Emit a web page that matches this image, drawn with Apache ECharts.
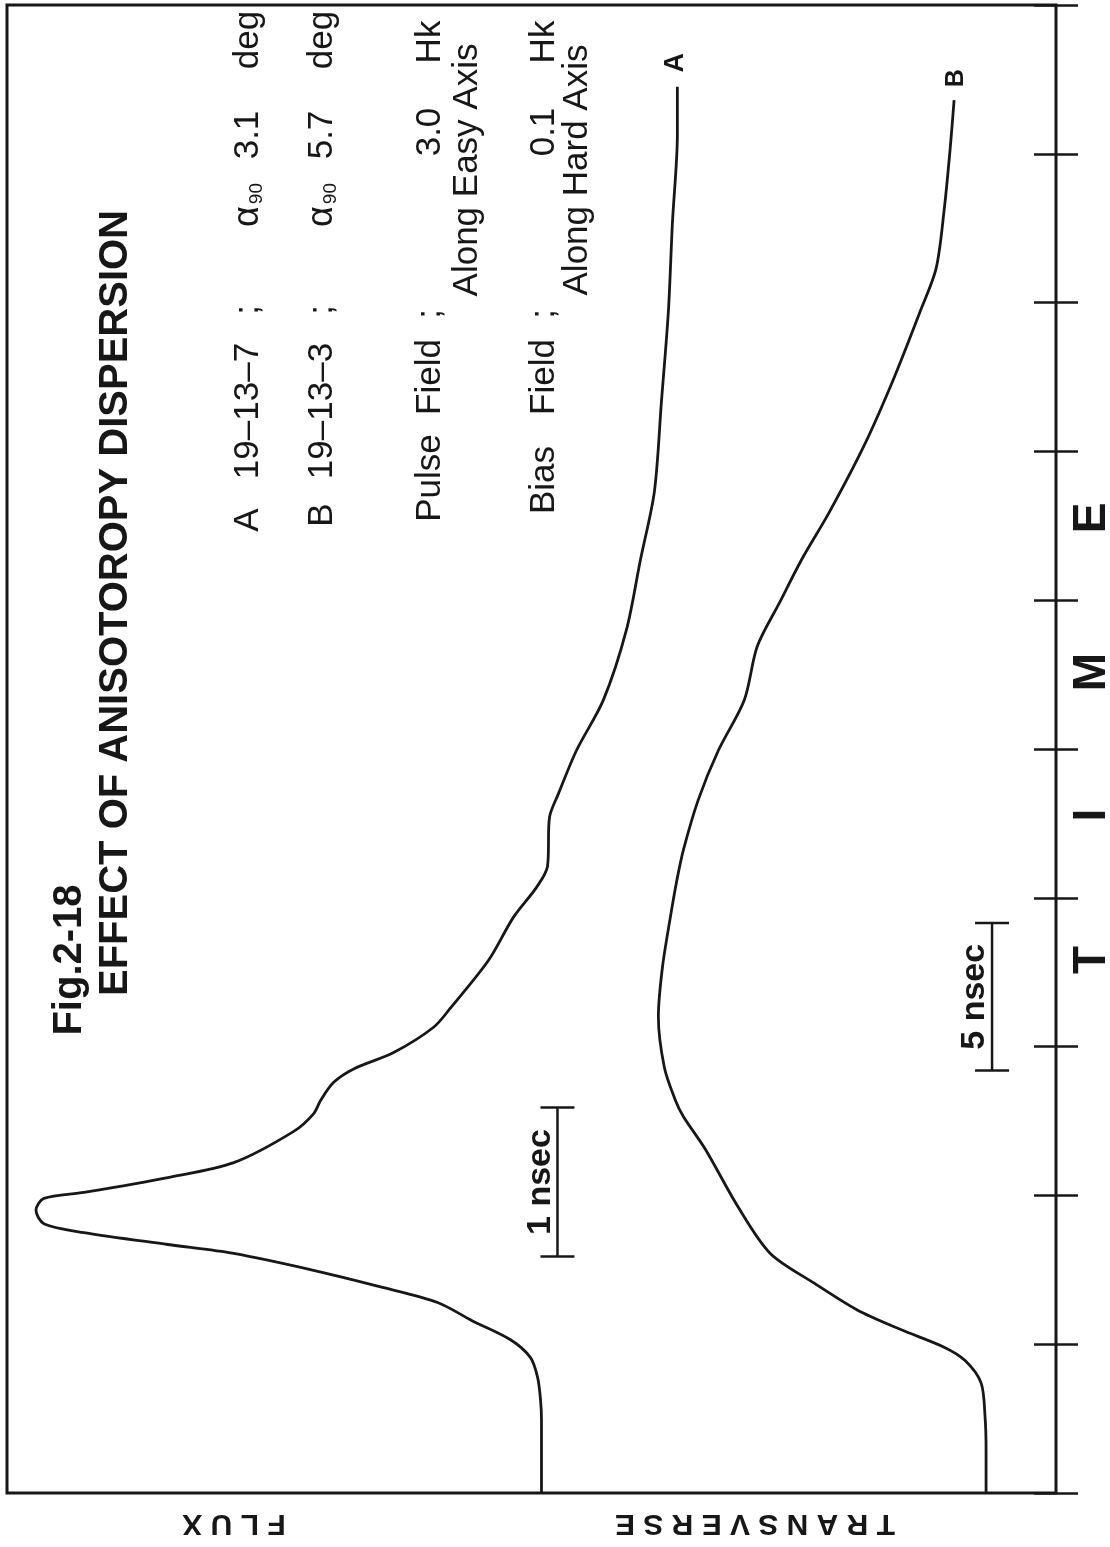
<!DOCTYPE html>
<html>
<head>
<meta charset="utf-8">
<script src="https://cdn.jsdelivr.net/npm/echarts@6/dist/echarts.min.js"></script>
<style>
  html, body { margin: 0; padding: 0; background: #fff; }
  #main { width: 1110px; height: 1547px; }
</style>
</head>
<body>
<div id="main"></div>
<script>
// time runs up the page, in chart divisions (A: 1 nsec/div, B: 5 nsec/div)
// transverse flux grows to the left (arbitrary units)
const timeA = [0.00, 0.49, 0.63, 0.78, 0.91, 1.03, 1.16, 1.28, 1.38, 1.49, 1.61, 1.67, 1.75, 1.81, 1.90,
  1.98, 2.02, 2.12, 2.22, 2.43, 2.55, 2.64, 2.76, 2.85, 2.96, 3.13, 3.26, 3.58, 3.87, 4.07, 4.21,
  4.54, 4.70, 4.99, 5.33, 5.80, 6.27, 6.73, 7.33, 7.94, 8.53, 9.13, 9.45];
const fluxA = [51.5, 51.5, 51.6, 51.9, 52.6, 54.6, 58.5, 61.9, 67.3, 73.9, 82.3, 88.9, 97.3, 101.3, 102.1,
  101.3, 97.3, 88.9, 82.3, 76.3, 74.3, 73.6, 72.3, 70.3, 66.3, 62.3, 60.6, 56.8, 54.3, 52.0, 50.9,
  50.7, 49.8, 48.0, 45.3, 43.0, 41.6, 40.2, 39.5, 38.8, 38.4, 37.9, 37.9];

const timeB = [0.00, 0.29, 0.51, 0.74, 0.89, 0.98, 1.10, 1.23, 1.41, 1.61, 1.92, 2.31, 2.53, 2.64, 2.86,
  3.20, 3.53, 3.87, 4.10, 4.32, 4.66, 4.99, 5.33, 5.69, 5.98, 6.28, 6.59, 7.04, 7.48, 7.94, 8.23,
  8.62, 9.03, 9.36];
const fluxB = [7.0, 7.0, 7.1, 7.5, 9.1, 11.2, 15.6, 19.9, 24.2, 28.6, 31.8, 35.1, 37.3, 38.1, 39.2,
  39.8, 39.4, 38.6, 38.0, 37.3, 35.8, 33.8, 31.2, 29.9, 27.7, 25.4, 22.7, 19.2, 16.3, 13.6, 12.0,
  11.2, 10.6, 10.2];

const curveNames = ['A', 'B'];

// scale bars (one division each)
const barLabels = ['1 nsec', '5 nsec'];
const barFlux = [49.9, 6.4];
const barStart = [1.59, 2.84];
const barEnd = [2.59, 3.83];

const ink = '#171717';
const FAM = '"Liberation Sans", Arial, sans-serif';
const UP = Math.PI / 2;

const chart = echarts.init(document.getElementById('main'));

function pairs(xs, ys) {
  return ys.map((y, i) => [xs[i], y]);
}

function txt(text, x, y, size, weight, rotation, rich) {
  const el = {
    type: 'text', x: x, y: y, rotation: rotation === undefined ? UP : rotation,
    style: {
      text: text, fill: ink,
      font: (weight || 'normal') + ' ' + size + 'px ' + FAM,
      align: 'center', verticalAlign: 'middle',
      textAlign: 'center', textVerticalAlign: 'middle'
    }
  };
  if (rich) el.style.rich = rich;
  return el;
}

const alphaRich = {
  a: { fontSize: 36, fontFamily: FAM, fill: ink },
  s: { fontSize: 19, fontFamily: FAM, fill: ink, verticalAlign: 'bottom', padding: [14, 0, 0, 2] }
};

function renderBar(params, api) {
  const top = api.coord([api.value(0), api.value(2)]);
  const bot = api.coord([api.value(0), api.value(1)]);
  const cap = 17;
  const ls = { stroke: ink, lineWidth: 2.5 };
  return {
    type: 'group',
    children: [
      { type: 'line', shape: { x1: top[0], y1: top[1], x2: bot[0], y2: bot[1] }, style: ls },
      { type: 'line', shape: { x1: top[0] - cap, y1: top[1], x2: top[0] + cap, y2: top[1] }, style: ls },
      { type: 'line', shape: { x1: bot[0] - cap, y1: bot[1], x2: bot[0] + cap, y2: bot[1] }, style: ls },
      {
        type: 'text', x: top[0] - 17, y: (top[1] + bot[1]) / 2, rotation: UP,
        style: {
          text: barLabels[params.dataIndex], fill: ink,
          font: 'bold 34px ' + FAM, align: 'center', verticalAlign: 'middle'
        }
      }
    ]
  };
}

const timeAxis = (pos) => ({
  type: 'value', position: pos, min: 0, max: 10, interval: 1,
  axisLine: { show: false },
  axisTick: { show: true, inside: true, length: 22, lineStyle: { color: ink, width: 2.5 } },
  axisLabel: { show: false },
  splitLine: { show: false }
});

const option = {
  backgroundColor: '#fff',
  animation: false,
  grid: {
    left: 7, right: 54, top: 5, bottom: 54,
    show: true, borderColor: ink, borderWidth: 3, backgroundColor: 'transparent',
    outerBoundsMode: 'none'
  },
  xAxis: { type: 'value', min: 0, max: 105, inverse: true, show: false },
  yAxis: [timeAxis('left'), timeAxis('right')],
  series: [
    {
      name: curveNames[0], type: 'line', data: pairs(fluxA, timeA),
      showSymbol: false, symbol: 'none', smooth: 0.3,
      lineStyle: { color: ink, width: 2.8 }
    },
    {
      name: curveNames[1], type: 'line', data: pairs(fluxB, timeB),
      showSymbol: false, symbol: 'none', smooth: 0.3,
      lineStyle: { color: ink, width: 2.8 }
    },
    {
      type: 'custom', renderItem: renderBar,
      data: barFlux.map((f, i) => [f, barStart[i], barEnd[i]]),
      encode: { x: 0, y: [1, 2] }, z: 3
    }
  ]
};

chart.setOption(option);

// curve labels sit just past the last point of each curve
const endA = chart.convertToPixel({ gridIndex: 0 }, [fluxA[fluxA.length - 1], timeA[timeA.length - 1]]);
const endB = chart.convertToPixel({ gridIndex: 0 }, [fluxB[fluxB.length - 1], timeB[timeB.length - 1]]);

const graphics = [
  // title
  txt('Fig.2-18', 70, 960, 40, 'bold'),
  txt('EFFECT OF ANISOTOROPY DISPERSION', 116, 603, 40, 'bold'),
  // sample A
  txt('A', 248, 520, 35), txt('19–13–7', 248, 411, 35), txt(';', 248, 310, 35),
  txt('{a|α}{s|90}', 248, 205, 35, 'normal', UP, alphaRich), txt('3.1', 248, 135, 35), txt('deg', 248, 40, 35),
  // sample B
  txt('B', 322, 515, 35), txt('19–13–3', 322, 411, 35), txt(';', 322, 310, 35),
  txt('{a|α}{s|90}', 322, 205, 35, 'normal', UP, alphaRich), txt('5.7', 322, 135, 35), txt('deg', 322, 40, 35),
  // pulse field
  txt('Pulse', 430, 478, 35), txt('Field', 430, 377, 35), txt(';', 430, 314, 35),
  txt('3.0', 430, 132, 35), txt('Hk', 430, 42, 35),
  txt('Along Easy Axis', 467, 170, 35),
  // bias field
  txt('Bias', 544, 480, 35), txt('Field', 544, 377, 35), txt(';', 544, 314, 35),
  txt('0.1', 544, 132, 35), txt('Hk', 544, 42, 35),
  txt('Along Hard Axis', 577, 170, 35),
  // curve labels
  txt(curveNames[0], endA[0] - 2, endA[1] - 24, 27, 'bold'),
  txt(curveNames[1], endB[0] + 2, endB[1] - 22, 25, 'bold'),
  // axis names
  txt('T R A N S V E R S E', 755, 1523, 30, 'bold', Math.PI),
  txt('F L U X', 234, 1523, 30, 'bold', Math.PI),
  txt('T', 1092, 960, 46, 'bold'),
  txt('I', 1092, 815, 46, 'bold'),
  txt('M', 1092, 672, 46, 'bold'),
  txt('E', 1092, 518, 46, 'bold')
];

chart.setOption({ graphic: graphics });
</script>
</body>
</html>
